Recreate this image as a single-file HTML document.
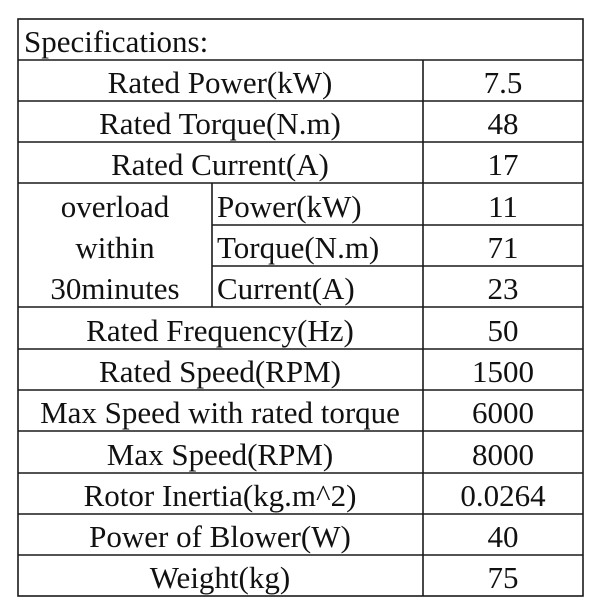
<!DOCTYPE html>
<html><head><style>
html,body{margin:0;padding:0;background:#fff;}
svg text{font-family:"Liberation Serif",serif;font-size:31px;fill:#111;}
</style></head><body>
<svg width="600" height="600" xmlns="http://www.w3.org/2000/svg">
<g stroke="#1a1a1a" stroke-width="1.6" fill="none">
<rect x="18" y="19" width="565" height="577"/>
<line x1="18" y1="60" x2="583" y2="60"/>
<line x1="18" y1="101" x2="583" y2="101"/>
<line x1="18" y1="142" x2="583" y2="142"/>
<line x1="18" y1="183" x2="583" y2="183"/>
<line x1="212" y1="225" x2="583" y2="225"/>
<line x1="212" y1="266" x2="583" y2="266"/>
<line x1="18" y1="307" x2="583" y2="307"/>
<line x1="18" y1="349" x2="583" y2="349"/>
<line x1="18" y1="390" x2="583" y2="390"/>
<line x1="18" y1="431" x2="583" y2="431"/>
<line x1="18" y1="473" x2="583" y2="473"/>
<line x1="18" y1="514" x2="583" y2="514"/>
<line x1="18" y1="555" x2="583" y2="555"/>
<line x1="423" y1="60" x2="423" y2="596"/>
<line x1="212" y1="183" x2="212" y2="307"/>
</g>
<text x="24" y="52">Specifications:</text>
<g text-anchor="middle">
<text x="220" y="93">Rated Power(kW)</text><text x="503" y="93">7.5</text>
<text x="220" y="134">Rated Torque(N.m)</text><text x="503" y="134">48</text>
<text x="220" y="175">Rated Current(A)</text><text x="503" y="175">17</text>
<text x="115" y="217">overload</text><text x="503" y="217">11</text>
<text x="115" y="258">within</text><text x="503" y="258">71</text>
<text x="115" y="299">30minutes</text><text x="503" y="299">23</text>
<text x="220" y="341">Rated Frequency(Hz)</text><text x="503" y="341">50</text>
<text x="220" y="382">Rated Speed(RPM)</text><text x="503" y="382">1500</text>
<text x="220" y="423">Max Speed with rated torque</text><text x="503" y="423">6000</text>
<text x="220" y="465">Max Speed(RPM)</text><text x="503" y="465">8000</text>
<text x="220" y="506">Rotor Inertia(kg.m^2)</text><text x="503" y="506">0.0264</text>
<text x="220" y="547">Power of Blower(W)</text><text x="503" y="547">40</text>
<text x="220" y="588">Weight(kg)</text><text x="503" y="588">75</text>
</g>
<text x="217" y="217">Power(kW)</text>
<text x="217" y="258">Torque(N.m)</text>
<text x="217" y="299">Current(A)</text>
</svg>
</body></html>
